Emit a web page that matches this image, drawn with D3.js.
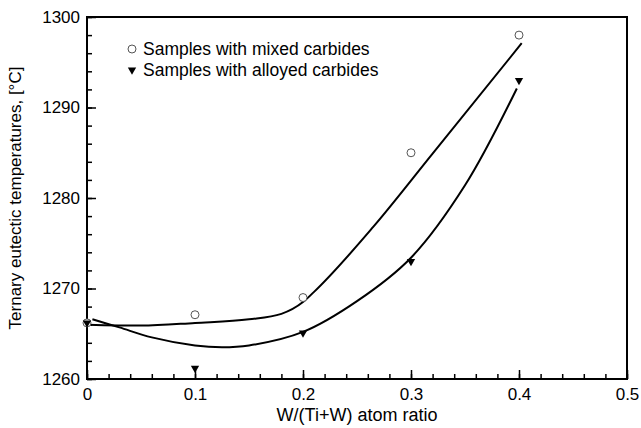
<!DOCTYPE html>
<html lang="en">
<head>
    <meta charset="UTF-8">
    <title>Ternary eutectic temperatures</title>
    <style>
        body {
            margin: 0;
            background-color: #fff;
            font-family: "Liberation Sans", Arial, Helvetica, sans-serif;
        }
        .tick text {
            font: 17px "Liberation Sans", Arial, sans-serif;
            fill: #000;
        }
        .fit {
            fill: none;
            stroke: #000;
            stroke-width: 2px;
        }
    </style>
    <script src="https://d3js.org/d3.v7.min.js"></script>
</head>
<body>
    <svg id="chart" width="641" height="428"></svg>
    <script>
        // measured points
        var ratio = [0, 0.1, 0.2, 0.3, 0.4];
        var mixed = [1266.2, 1267.1, 1269.0, 1285.0, 1298.0];
        var alloyed = [1266.2, 1261.2, 1265.1, 1273.0, 1293.0];

        // hand-drawn fit curves
        var mixedFitX = [0, 0.05, 0.1, 0.15, 0.18, 0.2, 0.21, 0.265, 0.32, 0.4025];
        var mixedFitY = [1266.0, 1265.9, 1266.2, 1266.6, 1267.2, 1268.5, 1269.6, 1276.8, 1284.9, 1297.1];
        var alloyedFitX = [0.005, 0.03, 0.06, 0.1, 0.125, 0.15, 0.2, 0.25, 0.3, 0.35, 0.398];
        var alloyedFitY = [1266.6, 1265.7, 1264.6, 1263.7, 1263.5, 1263.7, 1265.2, 1268.6, 1273.4, 1281.4, 1292.1];

        var xTicks = [0, 0.1, 0.2, 0.3, 0.4, 0.5];
        var yTicks = [1260, 1270, 1280, 1290, 1300];

        var svg = d3.select("#chart"),
            pL = 87, pR = 627, pT = 17, pB = 379;

        var x = d3.scaleLinear().domain([0, 0.5]).range([pL, pR]);
        var y = d3.scaleLinear().domain([1260, 1300]).range([pB, pT]);

        // minor ticks (inward)
        svg.append("g")
            .attr("transform", "translate(0," + pB + ")")
            .call(d3.axisTop(x).tickValues(d3.range(0, 0.5001, 0.02)).tickSize(5).tickFormat(""))
            .call(function (g) { g.select(".domain").remove(); });
        svg.append("g")
            .attr("transform", "translate(" + pL + ",0)")
            .call(d3.axisRight(y).tickValues(d3.range(1260, 1300.1, 2)).tickSize(5).tickFormat(""))
            .call(function (g) { g.select(".domain").remove(); });

        // major ticks
        var xAxis = svg.append("g")
            .attr("transform", "translate(0," + pB + ")")
            .call(d3.axisBottom(x).tickValues(xTicks).tickSize(0).tickPadding(9)
                .tickFormat(function (d) { return d === 0 ? "0" : d3.format(".1f")(d); }));
        xAxis.select(".domain").remove();
        xAxis.selectAll(".tick line").attr("y2", -9);

        var yAxis = svg.append("g")
            .attr("transform", "translate(" + pL + ",0)")
            .call(d3.axisLeft(y).tickValues(yTicks).tickSize(0).tickPadding(7).tickFormat(d3.format("d")));
        yAxis.select(".domain").remove();
        yAxis.selectAll(".tick line").attr("x2", 9);

        svg.selectAll(".tick line").attr("stroke", "#000").attr("stroke-width", 1.5);

        // frame
        svg.append("rect")
            .attr("x", pL).attr("y", pT)
            .attr("width", pR - pL).attr("height", pB - pT)
            .attr("fill", "none").attr("stroke", "#000").attr("stroke-width", 2);

        // fit curves
        var line = d3.line()
            .x(function (d) { return x(d[0]); })
            .y(function (d) { return y(d[1]); });

        svg.append("path").attr("class", "fit")
            .attr("d", line.curve(d3.curveMonotoneX)(d3.zip(mixedFitX, mixedFitY)));
        svg.append("path").attr("class", "fit")
            .attr("d", line.curve(d3.curveCatmullRom)(d3.zip(alloyedFitX, alloyedFitY)));

        var tri = d3.symbol().type(d3.symbolTriangle).size(30);

        // points
        svg.selectAll(".mixed")
            .data(d3.zip(ratio, mixed))
            .enter().append("circle")
            .attr("class", "mixed")
            .attr("cx", function (d) { return x(d[0]); })
            .attr("cy", function (d) { return y(d[1]); })
            .attr("r", 4)
            .attr("fill", "#fff")
            .attr("stroke", "#555")
            .attr("stroke-width", 1);

        svg.selectAll(".alloyed")
            .data(d3.zip(ratio, alloyed))
            .enter().append("path")
            .attr("class", "alloyed")
            .attr("d", tri)
            .attr("transform", function (d) { return "translate(" + x(d[0]) + "," + y(d[1]) + ") rotate(180)"; })
            .attr("fill", "#000");

        // legend
        var legend = svg.append("g").attr("transform", "translate(132,0)");
        legend.append("circle").attr("cx", 0).attr("cy", 49).attr("r", 4)
            .attr("fill", "#fff").attr("stroke", "#555").attr("stroke-width", 1);
        legend.append("path").attr("d", tri).attr("transform", "translate(0,70) rotate(180)").attr("fill", "#000");
        legend.append("text").attr("x", 11).attr("y", 55).attr("font-size", 17.5)
            .text("Samples with mixed carbides");
        legend.append("text").attr("x", 11).attr("y", 76).attr("font-size", 17.5)
            .text("Samples with alloyed carbides");

        // axis titles
        svg.append("text")
            .attr("x", (pL + pR) / 2).attr("y", 421)
            .attr("text-anchor", "middle").attr("font-size", 18)
            .text("W/(Ti+W) atom ratio");
        svg.append("text")
            .attr("transform", "translate(21," + ((pT + pB) / 2) + ") rotate(-90)")
            .attr("text-anchor", "middle").attr("font-size", 17)
            .text("Ternary eutectic temperatures, [°C]");
    </script>
</body>
</html>
